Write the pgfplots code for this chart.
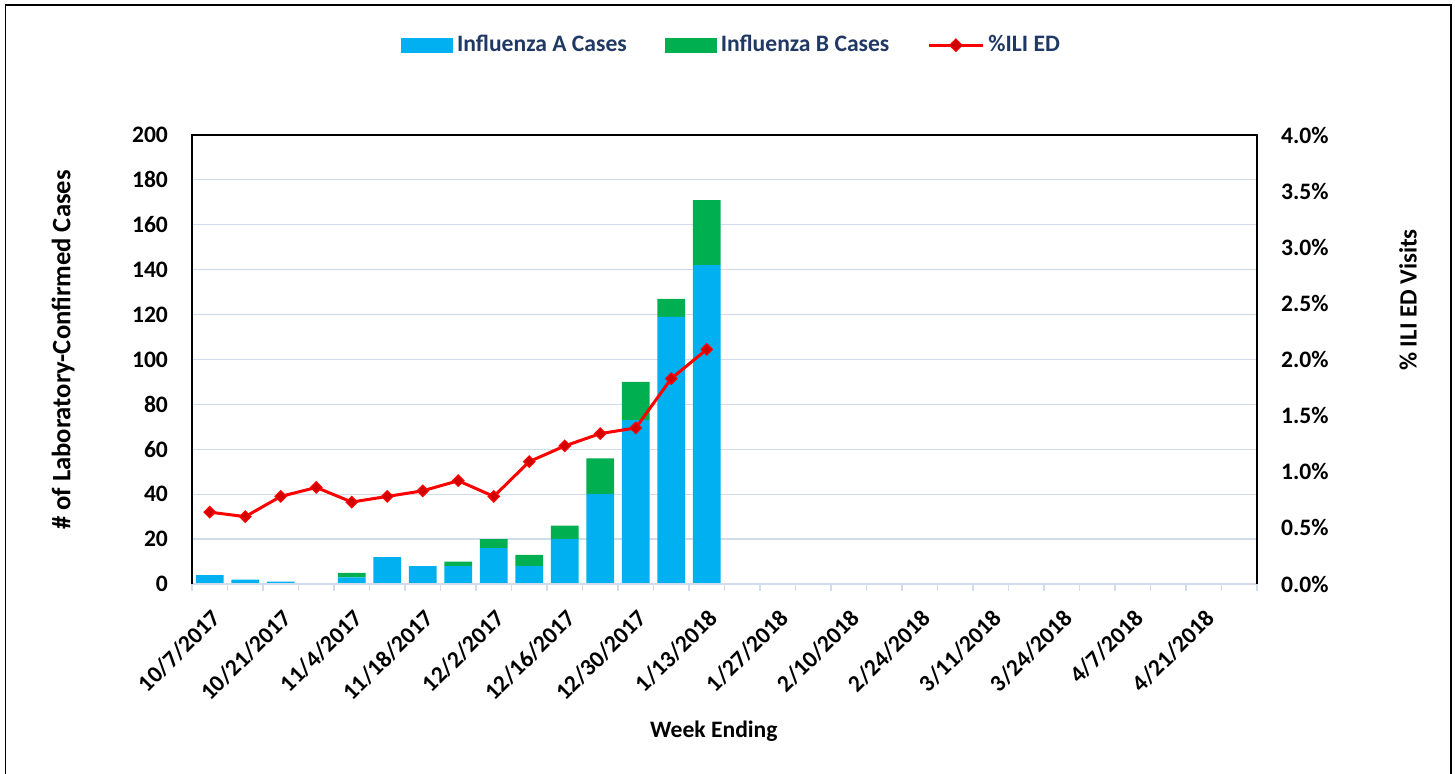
\documentclass[border=0pt]{standalone}
\usepackage{pgfplots}
\pgfplotsset{compat=1.18}
\usepackage{fontspec}
\setmainfont{Carlito}
\definecolor{cA}{HTML}{00B0F0}
\definecolor{cB}{HTML}{00B050}
\definecolor{gridc}{HTML}{D0DCEC}
\definecolor{navy}{HTML}{203864}
\definecolor{mk}{HTML}{D00000}
\newcommand{\ff}{\fontsize{11.8}{14}\selectfont\bfseries}
\begin{document}
\begin{tikzpicture}
\path[use as bounding box] (0,0) rectangle (727.5pt,387pt);
\draw[line width=0.8pt] (2.75pt,-1pt) -- (2.75pt,384.5pt) -- (725.5pt,384.5pt) -- (725.5pt,-1pt);
\begin{axis}[
  at={(96pt,95pt)}, anchor=south west,
  width=532.5pt, height=224.5pt, scale only axis,
  xmin=-0.5, xmax=29.5, ymin=0, ymax=200,
  ybar stacked, bar width=0.78,
  clip=false,
  xtick={0,2,...,28},
  xticklabels={10/7/2017,10/21/2017,11/4/2017,11/18/2017,12/2/2017,12/16/2017,12/30/2017,1/13/2018,1/27/2018,2/10/2018,2/24/2018,3/11/2018,3/24/2018,4/7/2018,4/21/2018},
  minor xtick={-0.5,0.5,...,29.5},
  xtick pos=lower, ytick pos=left,
  major tick length=0pt, minor tick length=3.5pt, tick align=outside,
  minor tick style={gridc, line width=0.6pt},
  ytick={0,20,...,200},
  ymajorgrids, grid style={gridc, line width=0.6pt},
  axis line style={draw=none},
  /pgf/number format/assume math mode=true,
  ticklabel style={font=\ff},
  yticklabel style={xshift=-8.5pt},
  xticklabel style={yshift=-7pt, rotate=45, anchor=north east},
  ylabel={\# of Laboratory-Confirmed Cases},
  ylabel style={at={(axis description cs:-0.121,0.521)}, anchor=center, font=\fontsize{13.3}{15}\selectfont\bfseries},
  xlabel={Week Ending},
  xlabel style={at={(axis description cs:0.490,-0.327)}, anchor=center, font=\ff},
  legend style={at={(0.5075,1.20)}, anchor=center, draw=none, fill=none, font=\ff, text=navy,
    /tikz/every even column/.append style={column sep=17pt}},
  legend columns=3,
]
\draw[gridc, line width=0.8pt] (rel axis cs:0,0) -- (rel axis cs:1,0);
\addplot[fill=cA, draw=none, legend image code/.code={\fill[cA] (0pt,-3.75pt) rectangle (26pt,3.75pt);}]
  coordinates {(0,4) (1,2) (2,1) (3,0) (4,3) (5,12) (6,8) (7,8) (8,16) (9,8) (10,20) (11,40) (12,73) (13,119) (14,142)};
\addlegendentry{Influenza A Cases}
\addplot[fill=cB, draw=none, legend image code/.code={\fill[cB] (0pt,-3.75pt) rectangle (26pt,3.75pt);}]
  coordinates {(0,0) (1,0) (2,0) (3,0) (4,2) (5,0) (6,0) (7,2) (8,4) (9,5) (10,6) (11,16) (12,17) (13,8) (14,29)};
\addlegendentry{Influenza B Cases}
\addlegendimage{legend image code/.code={\draw[red,line width=1.5pt] (0pt,0pt)--(27pt,0pt); \fill[mk,draw=red] (13.5pt,3.2pt)--(16.7pt,0pt)--(13.5pt,-3.2pt)--(10.3pt,0pt)--cycle;}}
\addlegendentry{\%ILI ED}
\end{axis}
\begin{axis}[
  at={(96pt,95pt)}, anchor=south west,
  width=532.5pt, height=224.5pt, scale only axis,
  xmin=-0.5, xmax=29.5, ymin=0, ymax=4,
  clip=false,
  axis x line=none,
  ytick pos=right, yticklabel pos=right,
  major tick length=0pt,
  ytick={0,0.5,...,4},
  axis line style={draw=none},
  /pgf/number format/assume math mode=true,
  ticklabel style={font=\ff},
  yticklabel={\pgfmathprintnumber[fixed,fixed zerofill,precision=1]{\tick}\%},
  yticklabel style={xshift=8.5pt},
  ylabel={\% ILI ED Visits},
  ylabel style={at={(axis description cs:1.1418,0.6325)}, anchor=center, font=\fontsize{12.4}{14}\selectfont\bfseries},
]
\draw[black, line width=0.7pt] (rel axis cs:0,0) -- (rel axis cs:0,1) -- (rel axis cs:1,1) -- (rel axis cs:1,0);
\addplot[red, line width=1.5pt, mark=square*, mark size=2pt, mark options={rotate=45, fill=mk, draw=red, line width=0.6pt}]
  coordinates {(0,0.64) (1,0.60) (2,0.78) (3,0.86) (4,0.73) (5,0.78) (6,0.83) (7,0.92) (8,0.78) (9,1.09) (10,1.23) (11,1.34) (12,1.39) (13,1.83) (14,2.09)};
\end{axis}
\end{tikzpicture}
\end{document}
